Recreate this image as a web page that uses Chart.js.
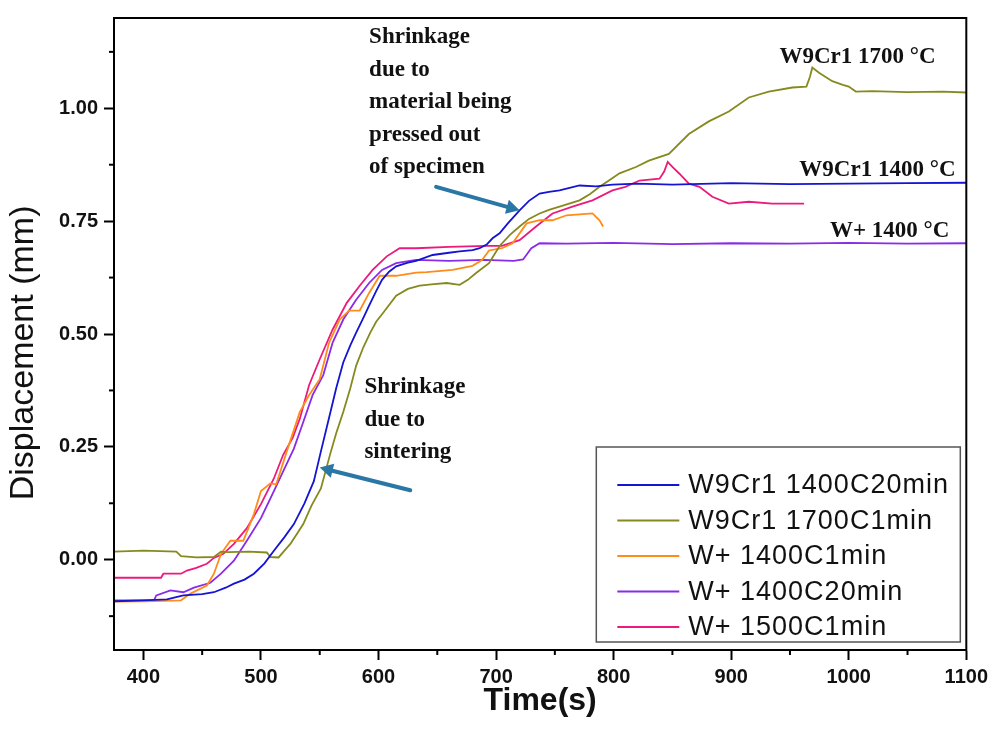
<!DOCTYPE html>
<html>
<head>
<meta charset="utf-8">
<script src="https://cdn.jsdelivr.net/npm/chart.js@4.4.1/dist/chart.umd.min.js"></script>
<style>
  html, body { margin: 0; padding: 0; background: #fff; }
  #wrap { width: 993px; height: 730px; position: relative; }
</style>
</head>
<body>
<div id="wrap"><canvas id="chart"></canvas></div>
<script>
// tick values
const xMajor = [400, 500, 600, 700, 800, 900, 1000, 1100];
const xMinor = [450, 550, 650, 750, 850, 950, 1050];
const yMajor = [0, 0.25, 0.5, 0.75, 1.0];
const yMinor = [-0.125, 0.125, 0.375, 0.625, 0.875, 1.125];

// W9Cr1 1400C20min
const blueT = [375, 400, 420, 434, 450, 460, 470, 477, 486, 494, 503, 511, 520, 528, 537, 545, 551, 558, 564, 570, 576, 581, 587, 592, 598, 603, 609, 615, 625, 632, 646, 660, 669, 680, 686, 692, 697, 703, 710, 720, 728, 737, 745, 754, 771, 785, 799, 820, 850, 900, 950, 1000, 1050, 1100];
const blueY = [-0.092, -0.09, -0.088, -0.079, -0.076, -0.072, -0.062, -0.053, -0.044, -0.031, -0.008, 0.02, 0.05, 0.079, 0.125, 0.174, 0.24, 0.315, 0.38, 0.437, 0.475, 0.503, 0.535, 0.563, 0.595, 0.62, 0.638, 0.65, 0.658, 0.662, 0.675, 0.68, 0.683, 0.686, 0.69, 0.698, 0.712, 0.723, 0.745, 0.774, 0.795, 0.811, 0.815, 0.818, 0.829, 0.827, 0.831, 0.833, 0.831, 0.834, 0.832, 0.833, 0.834, 0.835];

// W9Cr1 1700C1min
const oliveT = [375, 400, 428, 432, 445, 460, 466, 472, 490, 505, 508, 515, 520, 525, 530, 536, 543, 551, 559, 564, 570, 576, 581, 587, 593, 598, 604, 615, 625, 635, 645, 658, 669, 676, 683, 694, 703, 712, 720, 728, 737, 745, 754, 771, 780, 788, 796, 805, 819, 830, 847, 864, 881, 898, 915, 932, 952, 964, 967, 969, 975, 986, 995, 1000, 1006, 1020, 1050, 1080, 1100];
const oliveY = [0.018, 0.02, 0.018, 0.008, 0.005, 0.006, 0.018, 0.017, 0.018, 0.016, 0.006, 0.005, 0.02, 0.035, 0.055, 0.079, 0.12, 0.158, 0.235, 0.28, 0.327, 0.38, 0.43, 0.47, 0.503, 0.527, 0.547, 0.585, 0.6, 0.607, 0.61, 0.613, 0.609, 0.62, 0.635, 0.657, 0.695, 0.72, 0.738, 0.755, 0.767, 0.775, 0.782, 0.796, 0.81, 0.826, 0.84, 0.856, 0.87, 0.884, 0.899, 0.943, 0.971, 0.993, 1.024, 1.037, 1.046, 1.048, 1.07, 1.09, 1.078, 1.06, 1.052, 1.048, 1.037, 1.038, 1.036, 1.037, 1.035];

// W+ 1400C1min
const orangeT = [375, 400, 432, 440, 454, 460, 466, 474, 485, 494, 500, 508, 513, 522, 533, 541, 550, 558, 567, 575, 584, 592, 601, 615, 632, 641, 663, 680, 688, 694, 705, 714, 726, 737, 748, 760, 782, 788, 791];
const orangeY = [-0.093, -0.092, -0.09, -0.075, -0.057, -0.031, 0.013, 0.042, 0.042, 0.101, 0.152, 0.169, 0.167, 0.24, 0.327, 0.365, 0.4, 0.481, 0.532, 0.552, 0.552, 0.591, 0.629, 0.629, 0.636, 0.637, 0.642, 0.651, 0.664, 0.685, 0.69, 0.701, 0.745, 0.752, 0.752, 0.763, 0.767, 0.752, 0.738];

// W+ 1400C20min
const purpleT = [375, 409, 411, 423, 434, 443, 457, 466, 477, 488, 500, 511, 519, 528, 536, 544, 553, 561, 570, 581, 592, 603, 615, 632, 660, 690, 715, 723, 730, 737, 760, 800, 850, 900, 950, 1000, 1050, 1100];
const purpleY = [-0.09, -0.09, -0.079, -0.068, -0.072, -0.062, -0.051, -0.031, -0.002, 0.042, 0.092, 0.152, 0.196, 0.246, 0.305, 0.365, 0.409, 0.481, 0.532, 0.576, 0.613, 0.642, 0.657, 0.664, 0.662, 0.664, 0.662, 0.665, 0.69, 0.701, 0.7, 0.702, 0.699, 0.701, 0.7, 0.702, 0.7, 0.701];

// W+ 1500C1min
const pinkT = [375, 415, 417, 432, 437, 445, 454, 460, 468, 477, 488, 500, 511, 519, 527, 533, 541, 550, 561, 573, 584, 595, 607, 618, 632, 660, 692, 705, 720, 734, 748, 765, 782, 799, 810, 822, 839, 843, 846, 850, 856, 864, 873, 884, 898, 915, 935, 962];
const pinkY = [-0.04, -0.04, -0.031, -0.031, -0.024, -0.018, -0.009, 0.004, 0.013, 0.035, 0.07, 0.123, 0.18, 0.233, 0.27, 0.312, 0.387, 0.444, 0.51, 0.569, 0.607, 0.642, 0.672, 0.69, 0.69, 0.693, 0.695, 0.695, 0.708, 0.738, 0.767, 0.782, 0.796, 0.818, 0.826, 0.84, 0.844, 0.86, 0.881, 0.87, 0.855, 0.833, 0.826, 0.804, 0.789, 0.793, 0.789, 0.789];

const seriesLabels = ["W9Cr1 1400C20min", "W9Cr1 1700C1min", "W+ 1400C1min", "W+ 1400C20min", "W+ 1500C1min"];
const seriesColors = ["#1414d2", "#868a1e", "#ff8c1a", "#8a2be8", "#ec1a7c"];

// text notes on the plot (x, y in data units)
const notes = [
  { x: 592, y: 1.157, lines: ["Shrinkage", "due to", "material being", "pressed out", "of specimen"] },
  { x: 588, y: 0.382, lines: ["Shrinkage", "due to", "sintering"] },
  { x: 941, y: 1.114, lines: ["W9Cr1 1700 °C"] },
  { x: 958, y: 0.863, lines: ["W9Cr1 1400 °C"] },
  { x: 984, y: 0.729, lines: ["W+ 1400 °C"] }
];
const arrows = [
  { from: [649, 0.826], to: [720, 0.774] },
  { from: [627, 0.154], to: [550, 0.204] }
];

function toPoints(t, y) {
  return t.map((v, i) => ({ x: v, y: y[i] }));
}

const allSeries = [[blueT, blueY], [oliveT, oliveY], [orangeT, orangeY], [purpleT, purpleY], [pinkT, pinkY]];

const datasets = allSeries.map((s, i) => ({
  label: seriesLabels[i],
  data: toPoints(s[0], s[1]),
  borderColor: seriesColors[i],
  backgroundColor: seriesColors[i],
  borderWidth: 1.8,
  pointRadius: 0,
  tension: 0,
  fill: false
}));

// frame, minor ticks, notes, arrows and legend box
const extras = {
  id: "extras",
  afterDraw(chart) {
    const ctx = chart.ctx;
    const a = chart.chartArea;
    const xs = chart.scales.x;
    const ys = chart.scales.y;
    ctx.save();

    ctx.strokeStyle = "#000";
    ctx.lineWidth = 2;
    ctx.strokeRect(a.left, a.top, a.right - a.left, a.bottom - a.top);

    xMinor.forEach(v => {
      const px = xs.getPixelForValue(v);
      ctx.beginPath();
      ctx.moveTo(px, a.bottom);
      ctx.lineTo(px, a.bottom + 5);
      ctx.stroke();
    });
    yMinor.forEach(v => {
      const py = ys.getPixelForValue(v);
      ctx.beginPath();
      ctx.moveTo(a.left, py);
      ctx.lineTo(a.left - 5, py);
      ctx.stroke();
    });

    // notes
    ctx.fillStyle = "#111";
    ctx.textAlign = "left";
    ctx.textBaseline = "middle";
    notes.forEach(n => {
      ctx.font = 'bold 23px "Liberation Serif", "Times New Roman", serif';
      const px = xs.getPixelForValue(n.x);
      const py = ys.getPixelForValue(n.y);
      n.lines.forEach((line, k) => ctx.fillText(line, px, py + k * 32.5));
    });

    // arrows
    ctx.strokeStyle = "#2a77a6";
    ctx.fillStyle = "#2a77a6";
    ctx.lineWidth = 4;
    ctx.lineCap = "round";
    arrows.forEach(ar => {
      const x1 = xs.getPixelForValue(ar.from[0]), y1 = ys.getPixelForValue(ar.from[1]);
      const x2 = xs.getPixelForValue(ar.to[0]), y2 = ys.getPixelForValue(ar.to[1]);
      const ang = Math.atan2(y2 - y1, x2 - x1);
      const head = 15;
      ctx.beginPath();
      ctx.moveTo(x1, y1);
      ctx.lineTo(x2 - Math.cos(ang) * head * 0.8, y2 - Math.sin(ang) * head * 0.8);
      ctx.stroke();
      ctx.beginPath();
      ctx.moveTo(x2, y2);
      ctx.lineTo(x2 - head * Math.cos(ang - 0.5), y2 - head * Math.sin(ang - 0.5));
      ctx.lineTo(x2 - head * Math.cos(ang + 0.5), y2 - head * Math.sin(ang + 0.5));
      ctx.closePath();
      ctx.fill();
    });

    // legend box
    const bx = a.right - 370, by = a.bottom - 203, bw = 364, bh = 195;
    ctx.lineCap = "butt";
    ctx.strokeStyle = "#555";
    ctx.lineWidth = 1.5;
    ctx.strokeRect(bx, by, bw, bh);
    ctx.font = '27px "Liberation Sans", Arial, sans-serif';
    ctx.letterSpacing = "1px";
    ctx.textBaseline = "middle";
    chart.data.datasets.forEach((ds, i) => {
      const ry = by + 38 + i * 35.5;
      ctx.strokeStyle = ds.borderColor;
      ctx.lineWidth = 2;
      ctx.beginPath();
      ctx.moveTo(bx + 21, ry);
      ctx.lineTo(bx + 83, ry);
      ctx.stroke();
      ctx.fillStyle = "#111";
      ctx.fillText(ds.label, bx + 92, ry + 1);
    });

    ctx.restore();
  }
};

new Chart(document.getElementById("chart"), {
  type: "line",
  data: { datasets: datasets },
  options: {
    responsive: true,
    maintainAspectRatio: false,
    animation: false,
    layout: { padding: { top: 13, right: 26, left: 0, bottom: 0 } },
    plugins: {
      legend: { display: false },
      tooltip: { enabled: false }
    },
    scales: {
      x: {
        type: "linear",
        min: 375,
        max: 1100,
        afterBuildTicks: s => { s.ticks = xMajor.map(v => ({ value: v })); },
        afterFit: s => { s.height = 80; },
        ticks: {
          autoSkip: false,
          maxRotation: 0,
          padding: 5,
          color: "#111",
          callback: v => String(v),
          font: { family: '"Liberation Sans", Arial, sans-serif', size: 20, weight: "bold" }
        },
        grid: { drawOnChartArea: false, drawTicks: true, tickLength: 10, tickWidth: 2, tickColor: "#000" },
        border: { display: true, color: "#000", width: 2 },
        title: {
          display: true,
          text: "Time(s)",
          color: "#111",
          padding: { top: 0, bottom: 10 },
          font: { family: '"Liberation Sans", Arial, sans-serif', size: 32, weight: "bold" }
        }
      },
      y: {
        type: "linear",
        min: -0.2,
        max: 1.2,
        afterBuildTicks: s => { s.ticks = yMajor.map(v => ({ value: v })); },
        afterFit: s => { s.width = 114; },
        ticks: {
          autoSkip: false,
          padding: 6,
          color: "#111",
          callback: v => Number(v).toFixed(2),
          font: { family: '"Liberation Sans", Arial, sans-serif', size: 20, weight: "bold" }
        },
        grid: { drawOnChartArea: false, drawTicks: true, tickLength: 10, tickWidth: 2, tickColor: "#000" },
        border: { display: true, color: "#000", width: 2 },
        title: {
          display: true,
          // trailing spaces nudge the rotated title down a little
          text: "Displacement (mm)    ",
          color: "#111",
          padding: { top: 3, bottom: 0 },
          font: { family: '"Liberation Sans", Arial, sans-serif', size: 34 }
        }
      }
    }
  },
  plugins: [extras]
});
</script>
</body>
</html>
